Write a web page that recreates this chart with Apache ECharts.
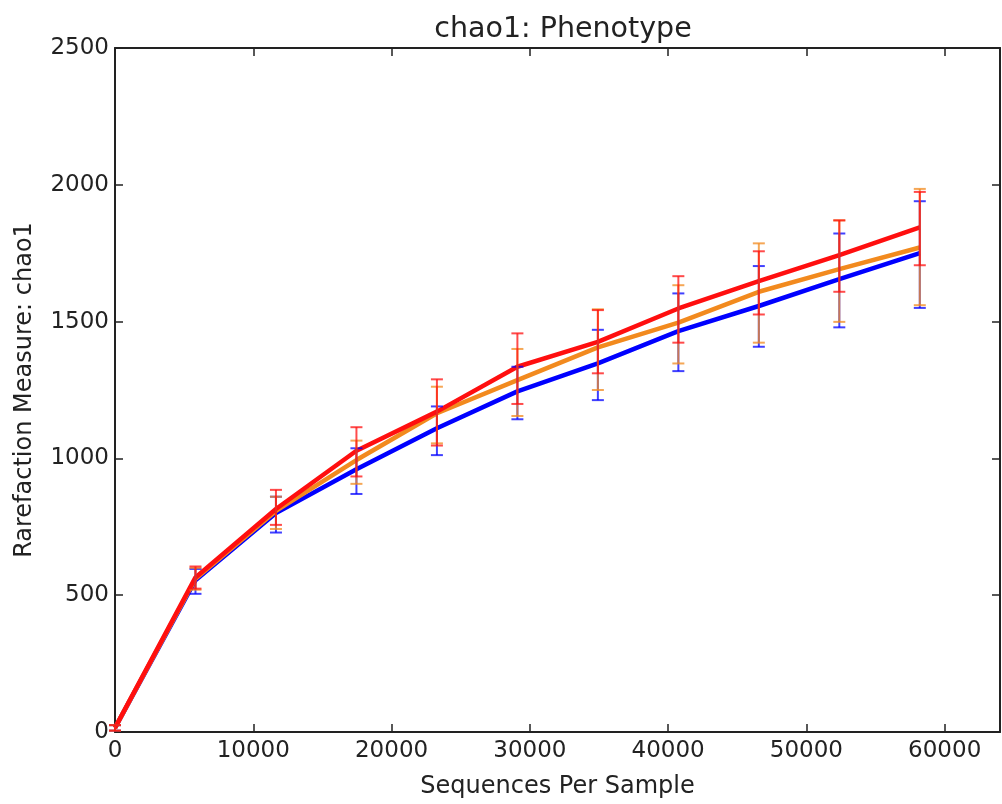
<!DOCTYPE html>
<html>
<head>
<meta charset="utf-8">
<script src="https://cdn.jsdelivr.net/npm/echarts@6/dist/echarts.min.js"></script>
<style>
html,body{margin:0;padding:0;background:#fff;}
#chart{width:1002px;height:804px;}
</style>
</head>
<body>
<div id="chart"></div>
<script>
var xs = [0, 5820, 11640, 17460, 23280, 29100, 34920, 40740, 46560, 52380, 58200];

var blueMean = [15, 555, 800, 960, 1110, 1245, 1347, 1465, 1557, 1655, 1750];
var blueLo   = [5, 505, 729, 870, 1012, 1143, 1213, 1319, 1408, 1479, 1550];
var blueHi   = [25, 596, 860, 1037, 1190, 1335, 1470, 1603, 1703, 1822, 1940];

var orangeMean = [15, 560, 808, 994, 1165, 1286, 1406, 1496, 1609, 1692, 1771];
var orangeLo   = [5, 520, 742, 907, 1055, 1155, 1250, 1347, 1423, 1499, 1560];
var orangeHi   = [25, 600, 860, 1065, 1262, 1400, 1545, 1633, 1786, 1870, 1985];

var redMean = [15, 565, 815, 1028, 1171, 1335, 1426, 1548, 1648, 1743, 1844];
var redLo   = [5, 524, 757, 934, 1047, 1199, 1311, 1423, 1526, 1609, 1706];
var redHi   = [25, 605, 885, 1114, 1289, 1457, 1542, 1666, 1757, 1870, 1974];

var xTicks = {min: 0, max: 64000, interval: 10000};
var yTicks = {min: 0, max: 2500, interval: 500};

var FONT = 'DejaVu Sans';
var AXC = '#222';

function pts(m) { return xs.map(function (x, i) { return [x, m[i]]; }); }
function errs(lo, hi) { return xs.map(function (x, i) { return [x, lo[i], hi[i]]; }); }
function plain(v) { return String(v); }

function lineSeries(name, m, color) {
  return {
    name: name, type: 'line', data: pts(m), symbol: 'none',
    lineStyle: {color: color, width: 4.5}, itemStyle: {color: color},
    animation: false, z: 3
  };
}
function errSeries(name, lo, hi, color) {
  return {
    name: name + ' err', type: 'custom', data: errs(lo, hi), animation: false, z: 4,
    encode: {x: 0, y: [1, 2]},
    renderItem: function (params, api) {
      var x = api.value(0);
      var a = api.coord([x, api.value(1)]);
      var b = api.coord([x, api.value(2)]);
      var hw = 6;
      var st = {stroke: color, lineWidth: 2, opacity: 0.75};
      return {
        type: 'group',
        children: [
          {type: 'line', shape: {x1: a[0], y1: a[1], x2: b[0], y2: b[1]}, style: st},
          {type: 'line', shape: {x1: a[0] - hw, y1: a[1], x2: a[0] + hw, y2: a[1]}, style: st},
          {type: 'line', shape: {x1: b[0] - hw, y1: b[1], x2: b[0] + hw, y2: b[1]}, style: st}
        ]
      };
    }
  };
}

var BLUE = '#0000ff', ORANGE = '#f28a1e', RED = '#ff0f0f';

var chart = echarts.init(document.getElementById('chart'), null, {renderer: 'canvas'});
var axBase = {
  axisLine: {show: true, onZero: false, lineStyle: {color: AXC, width: 2}},
  axisTick: {show: true, inside: true, length: 8, lineStyle: {color: AXC, width: 1.5}},
  splitLine: {show: false}
};
chart.setOption({
  backgroundColor: '#fff',
  animation: false,
  title: {
    text: 'chao1: Phenotype', left: 558, top: 10, textAlign: 'center',
    textStyle: {fontFamily: FONT, fontSize: 28.5, fontWeight: 'normal', color: '#222'}
  },
  grid: {left: 115, top: 48, right: 2, bottom: 72, containLabel: false},
  xAxis: [
    Object.assign({}, axBase, {
      type: 'value', position: 'bottom', min: xTicks.min, max: xTicks.max, interval: xTicks.interval,
      name: 'Sequences Per Sample', nameLocation: 'middle', nameGap: 43,
      nameTextStyle: {fontFamily: FONT, fontSize: 24, color: '#222', verticalAlign: 'top'},
      axisLabel: {fontFamily: FONT, fontSize: 23, color: '#222', margin: 8, showMaxLabel: false, formatter: plain}
    }),
    Object.assign({}, axBase, {
      type: 'value', position: 'top', min: xTicks.min, max: xTicks.max, interval: xTicks.interval,
      axisLabel: {show: false}
    })
  ],
  yAxis: [
    Object.assign({}, axBase, {
      type: 'value', position: 'left', min: yTicks.min, max: yTicks.max, interval: yTicks.interval,
      name: 'Rarefaction Measure: chao1', nameLocation: 'middle', nameGap: 78,
      nameTextStyle: {fontFamily: FONT, fontSize: 24, color: '#222'},
      axisLabel: {fontFamily: FONT, fontSize: 23, color: '#222', margin: 6, formatter: plain}
    }),
    Object.assign({}, axBase, {
      type: 'value', position: 'right', min: yTicks.min, max: yTicks.max, interval: yTicks.interval,
      axisLabel: {show: false}
    })
  ],
  series: [
    lineSeries('blue', blueMean, BLUE),
    errSeries('blue', blueLo, blueHi, BLUE),
    lineSeries('orange', orangeMean, ORANGE),
    errSeries('orange', orangeLo, orangeHi, ORANGE),
    lineSeries('red', redMean, RED),
    errSeries('red', redLo, redHi, RED)
  ]
});
</script>
</body>
</html>
